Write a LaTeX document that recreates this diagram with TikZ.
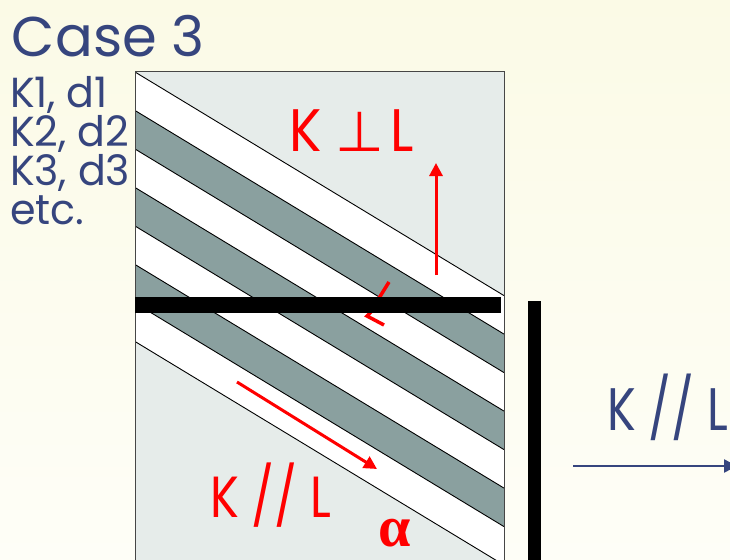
\documentclass[tikz,border=0pt]{standalone}
\usepackage{fontspec}
\setmainfont{Poppins}
\newfontfamily\symfont{DejaVu Sans}
\newfontfamily\greekfont{Liberation Serif}
\usetikzlibrary{arrows.meta}
\definecolor{bgtop}{RGB}{251,250,230}
\definecolor{bgbot}{RGB}{254,254,247}
\definecolor{navy}{RGB}{54,69,126}
\definecolor{pale}{RGB}{230,236,234}
\definecolor{stripe}{RGB}{138,160,159}
\definecolor{boxedge}{RGB}{70,70,70}
\tikzset{
  lbl/.style={anchor=base west, inner sep=0pt, outer sep=0pt},
  bluetxt/.style={lbl, text=navy},
  redtxt/.style={lbl, text=red},
  redarrow/.style={red, line width=3pt, -{Triangle[length=13pt,width=13pt]}},
  bluearrow/.style={navy, line width=2.5pt, -{Triangle[length=13pt,width=13pt]}},
  layerline/.style={draw=black, line width=0.9pt},
  barfill/.style={fill=black, draw=none},
}
\begin{document}
\begin{tikzpicture}[x=1pt,y=-1pt]
\clip (0,0) rectangle (730,559);
\shade[top color=bgtop, bottom color=bgbot] (0,0) rectangle (730,559);
% box
\begin{scope}
  \clip (135,72) rectangle (504,570);
  \fill[pale] (135,72) rectangle (504,570);
  \fill[white] (135,72) -- (504,295.6) -- (504,565.1) -- (135,341.5) -- cycle;
  \foreach \y in {110.5,187.5,264.5}
    \fill[stripe] (135,\y) -- (504,\y+223.6) -- (504,\y+262.1) -- (135,\y+38.5) -- cycle;
  \foreach \y in {72,110.5,149,187.5,226,264.5,303,341.5}
    \draw[layerline] (135,\y) -- (504,\y+223.6);
\end{scope}
\draw[boxedge, line width=1pt] (135,570) -- (135,72) -- (504,72) -- (504,570);
% angle mark
\draw[red, line width=3.5pt] (389,282) -- (376,303);
\draw[red, line width=3.5pt, line join=miter] (372,311) -- (367,316) -- (384,325);
% bars
\fill[barfill] (135,297) rectangle (501,313);
\fill[barfill] (528,301) rectangle (541,570);
% arrows
\coordinate (vs) at (436,275);
\coordinate (ve) at (436,163);
\draw[redarrow] (vs) -- (ve);
\coordinate (ds) at (237,382);
\coordinate (de) at (377,469);
\draw[redarrow] (ds) -- (de);
\coordinate (bs) at (573,466);
\coordinate (be) at (737,466);
\draw[bluearrow] (bs) -- (be);
% texts
\node[bluetxt, font=\fontsize{56}{56}\selectfont] (title) at (12,57) {Case 3};
\node[bluetxt, font=\fontsize{42}{42}\selectfont] (k1) at (10,107) {\scalebox{0.98}[1]{K1, d1}};
\node[bluetxt, font=\fontsize{42}{42}\selectfont] (k2) at (10,146) {\scalebox{0.98}[1]{K2, d2}};
\node[bluetxt, font=\fontsize{42}{42}\selectfont] (k3) at (10,185) {\scalebox{0.98}[1]{K3, d3}};
\node[bluetxt, font=\fontsize{42}{42}\selectfont] (etc) at (10,224) {\scalebox{0.98}[1]{etc.}};
\node[redtxt, font=\fontsize{60}{60}\selectfont] (kK) at (289,151) {\scalebox{0.9}[1]{K}};
\node[redtxt, font=\fontsize{56}{56}\selectfont\symfont] (kperp) at (335,151) {⊥};
\node[redtxt, font=\fontsize{60}{60}\selectfont] (kL) at (390,151) {\scalebox{0.9}[1]{L}};
\node[redtxt, font=\fontsize{58}{58}\selectfont] (kpar) at (210,517) {\scalebox{0.83}[1]{K // L}};
\node[bluetxt, font=\fontsize{60}{60}\selectfont] (kparb) at (607,430) {\scalebox{0.8}[1]{K // L}};
\node[redtxt, font=\fontsize{58}{58}\selectfont\greekfont\bfseries] (alpha) at (378,546) {α};
\end{tikzpicture}
\end{document}
